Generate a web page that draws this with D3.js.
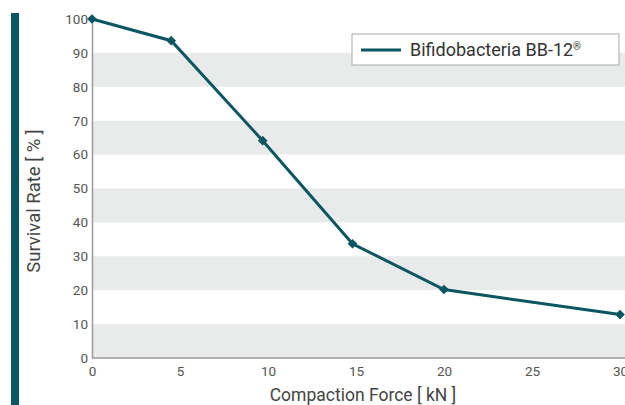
<!DOCTYPE html>
<html>
<head>
<meta charset="utf-8">
<script src="https://cdn.jsdelivr.net/npm/d3@7"></script>
<style>
  body { margin: 0; background: #fff; }
  svg { display: block; font-family: Roboto, "Noto Sans", sans-serif; }
</style>
</head>
<body>
<svg id="chart" width="625" height="405"></svg>
<script>
// chart data
var force = [0, 4.5, 9.7, 14.8, 20, 30],
	survival = [100, 93.6, 64.1, 33.7, 20.2, 12.8],
	xTicks = [0, 5, 10, 15, 20, 25, 30],
	yTicks = [0, 10, 20, 30, 40, 50, 60, 70, 80, 90, 100],
	seriesName = "Bifidobacteria BB-12";

var svg = d3.select("#chart"),
	teal = "#0a5662",
	plotL = 92, plotR = 620, plotT = 19, plotB = 358;

var x = d3.scaleLinear().domain([0, 30]).range([plotL, plotR]),
	y = d3.scaleLinear().domain([0, 100]).range([plotB, plotT]);

// side accent bar
svg.append("rect").attr("x", 11).attr("y", 13).attr("width", 8).attr("height", 392).attr("fill", teal);

// alternating bands
var bands = d3.range(0, 100, 20);
svg.selectAll(".band").data(bands).enter().append("rect")
	.attr("class", "band")
	.attr("x", plotL)
	.attr("width", 625 - plotL)
	.attr("y", function(d) { return y(d + 10); })
	.attr("height", function(d) { return y(d) - y(d + 10); })
	.attr("fill", "#e9eaea");

// axes
var yAxis = svg.append("g").attr("transform", "translate(" + plotL + ",0)")
	.call(d3.axisLeft(y).tickValues(yTicks).tickSize(0).tickPadding(4));
var xAxis = svg.append("g").attr("transform", "translate(0," + plotB + ")")
	.call(d3.axisBottom(x).tickValues(xTicks).tickSize(0).tickPadding(8));
xAxis.select(".domain").attr("d", "M" + plotL + ",0H625");

[xAxis, yAxis].forEach(function(g) {
	g.select(".domain").attr("stroke", "#9a9a9a").attr("stroke-width", 1.5);
	g.selectAll("text").attr("fill", "#555").style("font-size", "13.5px").style("font-family", "Roboto, sans-serif");
});

// line + markers
var line = d3.line().x(function(d) { return x(d[0]); }).y(function(d) { return y(d[1]); });
var pts = d3.zip(force, survival);

svg.append("path").datum(pts)
	.attr("d", line)
	.attr("fill", "none")
	.attr("stroke", teal)
	.attr("stroke-width", 3);

svg.selectAll(".pt").data(pts).enter().append("path")
	.attr("class", "pt")
	.attr("d", d3.symbol(d3.symbolDiamond2, 60))
	.attr("transform", function(d) { return "translate(" + x(d[0]) + "," + y(d[1]) + ")"; })
	.attr("fill", teal);

// axis titles
svg.append("text")
	.attr("x", 363).attr("y", 401)
	.attr("text-anchor", "middle")
	.attr("fill", "#444")
	.style("font-size", "17.5px")
	.text("Compaction Force [ kN ]");

svg.append("text")
	.attr("transform", "translate(40,201) rotate(-90)")
	.attr("text-anchor", "middle")
	.attr("fill", "#444")
	.style("font-size", "18.5px")
	.text("Survival Rate [ % ]");

// legend
var lg = svg.append("g").attr("transform", "translate(352,34)");
lg.append("rect").attr("width", 267).attr("height", 31)
	.attr("fill", "#fff").attr("stroke", "#aaa").attr("stroke-width", 1);
lg.append("line").attr("x1", 9).attr("x2", 49).attr("y1", 16).attr("y2", 16)
	.attr("stroke", teal).attr("stroke-width", 3);
var lt = lg.append("text").attr("x", 58).attr("y", 22)
	.attr("fill", "#333").style("font-size", "18px")
	.text(seriesName);
lt.append("tspan").attr("dy", -6).style("font-size", "10px").text("\u00AE");
</script>
</body>
</html>
